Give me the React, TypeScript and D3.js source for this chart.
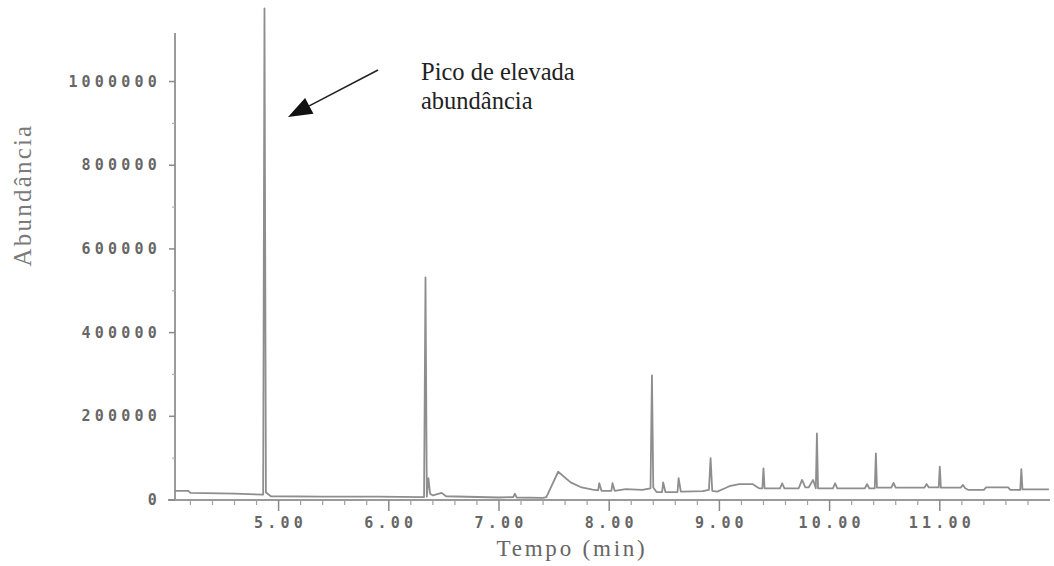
import React from "react";
import * as d3 from "d3";

// Chromatogram: total ion current vs. retention time
const peakTimes = [4.872, 6.333, 8.388, 8.92, 9.4, 9.885, 10.42, 11.0, 11.74];
const peakApex = [1175000, 532000, 298000, 100000, 75700, 159000, 111500, 79500, 74000];

// Baseline trace with minor features (time in min, abundance)
const baseTimes = [
  4.06, 4.18, 4.2, 4.6, 4.86, 4.885, 4.93, 5.4, 5.9, 6.32,
  6.345, 6.36, 6.375, 6.4, 6.48, 6.52, 7.0, 7.13, 7.144, 7.16, 7.4,
  7.43, 7.537, 7.65, 7.75, 7.85, 7.9, 7.91, 7.93, 8.02, 8.03, 8.05,
  8.15, 8.3, 8.375, 8.4, 8.43, 8.48, 8.49, 8.51, 8.62, 8.63, 8.65,
  8.67, 8.85, 8.905, 8.935, 8.98, 9.05, 9.09, 9.18, 9.3, 9.36, 9.39,
  9.41, 9.55, 9.57, 9.59, 9.72, 9.75, 9.78, 9.81, 9.85, 9.875, 9.895,
  10.03, 10.05, 10.07, 10.32, 10.34, 10.36, 10.41, 10.43, 10.56, 10.58,
  10.6, 10.86, 10.88, 10.9, 10.99, 11.01, 11.19, 11.21, 11.23, 11.26,
  11.4, 11.42, 11.62, 11.64, 11.73, 11.75, 11.99,
];
const baseValues = [
  22000, 22000, 17000, 15000, 13000, 18000, 9000, 8000, 8000, 7000,
  8000, 52000, 15000, 11000, 17000, 9000, 6000, 7000, 15000, 6000, 5000,
  7000, 67500, 42000, 30000, 25000, 23000, 40000, 22000, 22000, 40000, 22000,
  26000, 24000, 28000, 30000, 19000, 19000, 42000, 19000, 19000, 52000, 20000,
  20000, 21000, 24000, 22000, 20000, 28000, 33000, 38000, 38000, 28000, 28000,
  28000, 28000, 40000, 28000, 28000, 48000, 30000, 30000, 48000, 28000, 28000,
  28000, 40000, 28000, 28000, 38000, 28000, 28000, 29500, 29500, 41000,
  29500, 29500, 38000, 30000, 30000, 29500, 29500, 36000, 28000, 24000,
  24000, 30000, 30000, 24000, 24000, 25500, 25500,
];

const yTicks = [0, 200000, 400000, 600000, 800000, 1000000];
const yTickLabels = ["0", "200000", "400000", "600000", "800000", "1000000"];
const xTicks = [5, 6, 7, 8, 9, 10, 11];
const xTickLabels = ["5.00", "6.00", "7.00", "8.00", "9.00", "10.00", "11.00"];

const annotationLines = ["Pico de elevada", "abundância"];

const W = 1054;
const H = 566;
const left = 175;
const right = 1050;
const bottom = 500;
const top = 33;

export default function App() {
  const x = d3.scaleLinear().domain([4.06, 12.0]).range([left, right]);
  const y = d3.scaleLinear().domain([0, 1116000]).range([bottom, top]);

  const pts: [number, number][] = [];
  baseTimes.forEach((t, i) => pts.push([t, baseValues[i]]));
  peakTimes.forEach((t, i) => pts.push([t, peakApex[i]]));
  pts.sort((a, b) => a[0] - b[0]);

  const line = d3
    .line<[number, number]>()
    .x((d) => x(d[0]))
    .y((d) => y(d[1]));

  const minorX = d3.range(4.2, 11.95, 0.2).filter((t) => Math.abs(t - Math.round(t)) > 0.05);
  const minorY = d3.range(100000, 1100000, 200000);

  const monoFont = "'DejaVu Sans Mono', monospace";
  const serif = "'Liberation Serif', 'Times New Roman', serif";

  // arrow geometry
  const ax0 = 378, ay0 = 70, ax1 = 288, ay1 = 117;
  const ang = Math.atan2(ay1 - ay0, ax1 - ax0);
  const headLen = 24, headHalf = 9;
  const bx = ax1 - headLen * Math.cos(ang);
  const by = ay1 - headLen * Math.sin(ang);
  const px = -Math.sin(ang) * headHalf;
  const py = Math.cos(ang) * headHalf;

  return (
    <svg
      width={W}
      height={H}
      style={{ position: "absolute", left: 0, top: 0, background: "#fff" }}
    >
      {/* axes */}
      <line x1={left} x2={left} y1={top} y2={bottom} stroke="#9a9a9a" strokeWidth={2} />
      <line x1={left - 7} x2={right} y1={bottom} y2={bottom} stroke="#9a9a9a" strokeWidth={2} />

      {yTicks.map((v, i) => (
        <g key={"yt" + i}>
          <line x1={left - 6} x2={left} y1={y(v)} y2={y(v)} stroke="#8a8a8a" strokeWidth={1.5} />
          <text
            x={161}
            y={y(v) + 5}
            textAnchor="end"
            fontFamily={monoFont}
            fontSize={15}
            fontWeight="bold"
            letterSpacing={4.2}
            fill="#666"
          >
            {yTickLabels[i]}
          </text>
        </g>
      ))}
      {minorY.map((v, i) => (
        <line key={"ym" + i} x1={left - 3} x2={left} y1={y(v)} y2={y(v)} stroke="#b0b0b0" strokeWidth={1.2} />
      ))}

      {xTicks.map((t, i) => (
        <g key={"xt" + i}>
          <line x1={x(t)} x2={x(t)} y1={bottom} y2={bottom + 11} stroke="#8a8a8a" strokeWidth={1.5} />
          <text
            x={x(t) + 2}
            y={bottom + 28}
            textAnchor="middle"
            fontFamily={monoFont}
            fontSize={15}
            fontWeight="bold"
            letterSpacing={4.2}
            fill="#666"
          >
            {xTickLabels[i]}
          </text>
        </g>
      ))}
      {minorX.map((t, i) => (
        <line key={"xm" + i} x1={x(t)} x2={x(t)} y1={bottom} y2={bottom + 5} stroke="#a0a0a0" strokeWidth={1.2} />
      ))}

      {/* trace */}
      <path d={line(pts) || ""} fill="none" stroke="#8e8e8e" strokeWidth={1.8} strokeLinejoin="round" />

      {/* axis titles */}
      <text
        transform={`translate(31,195) rotate(-90)`}
        textAnchor="middle"
        fontFamily={serif}
        fontSize={25}
        letterSpacing={2.2}
        fill="#7a7a7a"
      >
        Abundância
      </text>
      <text
        x={572}
        y={556}
        textAnchor="middle"
        fontFamily={serif}
        fontSize={23}
        letterSpacing={2.8}
        fill="#666"
      >
        Tempo (min)
      </text>

      {/* annotation */}
      {annotationLines.map((s, i) => (
        <text key={"an" + i} x={421} y={80 + i * 29} fontFamily={serif} fontSize={24.5} fill="#222">
          {s}
        </text>
      ))}
      <line x1={ax0} y1={ay0} x2={bx} y2={by} stroke="#222" strokeWidth={1.6} />
      <polygon
        points={`${ax1},${ay1} ${bx + px},${by + py} ${bx - px},${by - py}`}
        fill="#111"
      />
    </svg>
  );
}
